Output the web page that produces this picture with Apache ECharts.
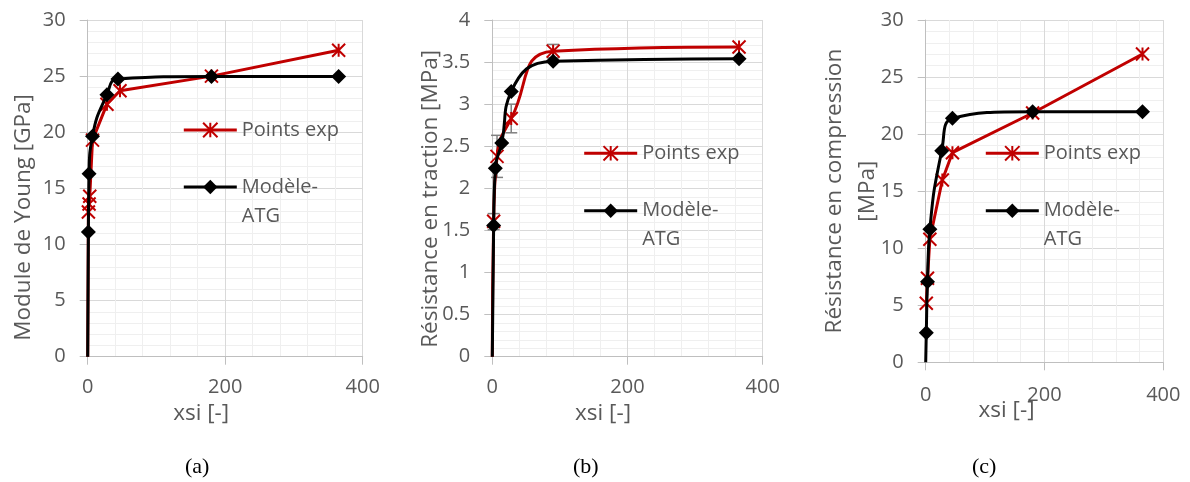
<!DOCTYPE html>
<html>
<head>
<meta charset="utf-8">
<script src="https://cdn.jsdelivr.net/npm/echarts@6/dist/echarts.min.js"></script>
<style>
html,body{margin:0;padding:0;background:#fff;}
#chart{width:1190px;height:482px;}
</style>
</head>
<body>
<div id="chart"></div>
<script>
// ---- Data ----
// (a) Module de Young
const xsiA_exp = [0, 1, 2, 3, 7, 28, 47, 180, 365];
const youngExp = [0, 12.9, 13.6, 14.3, 19.3, 22.5, 23.7, 25.0, 27.3];
const xsiA_mod = [0, 1, 2, 7, 28, 44, 180, 365];
const youngMod = [0, 11.1, 16.3, 19.65, 23.35, 24.75, 24.96, 24.96];

// (b) Résistance en traction
const xsiB_exp = [0, 2, 7, 28, 90, 365];
const tracExp = [0, 1.61, 2.38, 2.83, 3.63, 3.68];
const xsiB_err = [2, 7, 28, 90];
const tracErrLow = [1.51, 2.13, 2.66, 3.55];
const tracErrHigh = [1.70, 2.63, 3.00, 3.71];
const xsiB_mod = [0, 2, 4.5, 14, 28, 90, 365];
const tracMod = [0, 1.56, 2.24, 2.54, 3.15, 3.51, 3.54];

// (c) Résistance en compression
const xsiC_exp = [1, 3, 7, 28, 45, 180, 365];
const compExp = [5.17, 7.36, 10.78, 15.98, 18.37, 21.85, 27.02];
const xsiC_mod = [0, 1, 3, 7, 27, 45, 180, 365];
const compMod = [0, 2.6, 7.07, 11.65, 18.55, 21.38, 21.96, 21.96];

const xTicks = [0, 200, 400];
const seriesNames = ['Points exp', 'Modèle-ATG'];
const captions = ['(a)', '(b)', '(c)'];

// ---- Styling ----
const GREY = '#595959';
const RED = '#C00000';
const FONT = 'Open Sans';
const STAR = 'path://M0,0L10,10M10,0L0,10M5,0L5,10';

function pairs(xs, ys, noSymbolAtZero) {
  return xs.map((x, i) => {
    if (noSymbolAtZero && x === 0 && ys[i] === 0) return { value: [x, ys[i]], symbol: 'none' };
    return [x, ys[i]];
  });
}

const grids = [
  { left: 87.7, top: 20, width: 275, height: 336.7 },
  { left: 492.3, top: 20, width: 270.4, height: 336.7 },
  { left: 925.7, top: 20, width: 237.6, height: 342.3 }
];

const yCfg = [
  { max: 30, interval: 5, name: 'Module de Young [GPa]', nameGap: 48, pad: [0, 58, 0, 0] },
  { max: 4, interval: 0.5, name: 'Résistance en traction [MPa]', nameGap: 45, pad: [0, 21, 0, 0] },
  { max: 30, interval: 5, name: 'Résistance en compression\n[MPa]', nameGap: 42, pad: [0, 0, 0, 0] }
];
const xCfg = [
  { nameGap: 45, pad: [0, 48, 0, 0], margin: 21 },
  { nameGap: 45, pad: [0, 49, 0, 0], margin: 21 },
  { nameGap: 37, pad: [0, 76, 0, 0], margin: 23 }
];

const xAxes = grids.map((g, i) => ({
  type: 'value', gridIndex: i, min: xTicks[0], max: xTicks[xTicks.length - 1], interval: xTicks[1] - xTicks[0],
  axisLine: { show: true, onZero: false, lineStyle: { color: '#bfbfbf', width: 1 } },
  axisTick: { show: true, length: 8, lineStyle: { color: '#bfbfbf' } },
  axisLabel: { margin: xCfg[i].margin, color: GREY, fontSize: 20, fontFamily: FONT },
  splitLine: { show: true, lineStyle: { color: '#d9d9d9', width: 1 } },
  minorTick: { show: false, splitNumber: 5 },
  minorSplitLine: { show: true, lineStyle: { color: '#efefef', width: 1 } },
  name: 'xsi [-]', nameLocation: 'middle', nameGap: xCfg[i].nameGap, nameMoveOverlap: false,
  nameTextStyle: { color: GREY, fontSize: 22.5, fontFamily: FONT, padding: xCfg[i].pad }
}));

const yAxes = grids.map((g, i) => ({
  type: 'value', gridIndex: i, min: 0, max: yCfg[i].max, interval: yCfg[i].interval,
  axisLine: { show: true, lineStyle: { color: '#bfbfbf', width: 1 } },
  axisTick: { show: true, length: 8, lineStyle: { color: '#bfbfbf' } },
  axisLabel: { margin: 22, color: GREY, fontSize: 20, fontFamily: FONT },
  splitLine: { show: true, lineStyle: { color: '#d9d9d9', width: 1 } },
  minorTick: { show: false, splitNumber: 5 },
  minorSplitLine: { show: true, lineStyle: { color: '#efefef', width: 1 } },
  name: yCfg[i].name, nameLocation: 'middle', nameGap: yCfg[i].nameGap, nameRotate: 90, nameMoveOverlap: false,
  nameTextStyle: { color: GREY, fontSize: 22.5, fontFamily: FONT, lineHeight: 33, padding: yCfg[i].pad }
}));

function expSeries(i, data, smooth) {
  return {
    type: 'line', name: seriesNames[0], xAxisIndex: i, yAxisIndex: i,
    data: data, smooth: smooth, symbol: STAR, symbolSize: 13,
    lineStyle: { color: RED, width: 3 },
    itemStyle: { color: RED, borderColor: RED, borderWidth: 2 },
    z: 3, animation: false
  };
}
function modSeries(i, data) {
  return {
    type: 'line', name: seriesNames[1], xAxisIndex: i, yAxisIndex: i,
    data: data, smooth: 0.5, symbol: 'diamond', symbolSize: 15,
    lineStyle: { color: '#000', width: 3 },
    itemStyle: { color: '#000' },
    z: 4, animation: false
  };
}

const errData = xsiB_err.map((x, i) => [x, tracErrLow[i], tracErrHigh[i]]);

const series = [
  {
    type: 'custom', xAxisIndex: 1, yAxisIndex: 1, data: errData, z: 2, silent: true,
    encode: { x: 0, y: [1, 2] }, animation: false,
    renderItem: function (params, api) {
      const x = api.value(0);
      const lo = api.coord([x, api.value(1)]);
      const hi = api.coord([x, api.value(2)]);
      const w = 6;
      const st = { stroke: '#7f7f7f', lineWidth: 1.5 };
      return {
        type: 'group', children: [
          { type: 'line', shape: { x1: lo[0], y1: lo[1], x2: hi[0], y2: hi[1] }, style: st },
          { type: 'line', shape: { x1: lo[0] - w, y1: lo[1], x2: lo[0] + w, y2: lo[1] }, style: st },
          { type: 'line', shape: { x1: hi[0] - w, y1: hi[1], x2: hi[0] + w, y2: hi[1] }, style: st }
        ]
      };
    }
  },
  expSeries(0, pairs(xsiA_exp, youngExp, true), false),
  modSeries(0, pairs(xsiA_mod, youngMod, true)),
  expSeries(1, pairs(xsiB_exp, tracExp, true), 0.5),
  modSeries(1, pairs(xsiB_mod, tracMod, true)),
  expSeries(2, pairs(xsiC_exp, compExp, true), false),
  modSeries(2, pairs(xsiC_mod, compMod, true))
];

// Legends: one per item, placed per panel
const legendPos = [
  { left: 182.3, c1: 130, c2: 187 },
  { left: 582.7, c1: 153.3, c2: 210.7 },
  { left: 984.3, c1: 153.3, c2: 210.7 }
];
const LH = 29;
const legends = [];
legendPos.forEach(p => {
  legends.push({
    orient: 'vertical', left: p.left, top: p.c1 - LH / 2, padding: 0,
    itemWidth: 53, itemHeight: 18, selectedMode: false,
    lineStyle: { width: 3 },
    data: [{ name: seriesNames[0] }],
    textStyle: { color: GREY, fontSize: 20, fontFamily: FONT, lineHeight: LH }
  });
  legends.push({
    orient: 'vertical', left: p.left, top: p.c2 - 1.5 * LH, padding: 0,
    itemWidth: 53, itemHeight: 18, selectedMode: false,
    lineStyle: { width: 3 },
    data: [{ name: seriesNames[1] }],
    formatter: () => '\nModèle-\nATG',
    textStyle: { color: GREY, fontSize: 20, fontFamily: FONT, lineHeight: LH }
  });
});

const capX = [198, 586, 985];
const graphics = captions.map((c, i) => ({
  type: 'text', left: capX[i] - 13, top: 456,
  style: { text: c, font: '22px "Liberation Serif"', fill: '#000' }
}));

const chart = echarts.init(document.getElementById('chart'), null, { renderer: 'canvas' });
chart.setOption({
  animation: false,
  grid: grids,
  xAxis: xAxes,
  yAxis: yAxes,
  legend: legends,
  series: series,
  graphic: graphics
});
</script>
</body>
</html>
